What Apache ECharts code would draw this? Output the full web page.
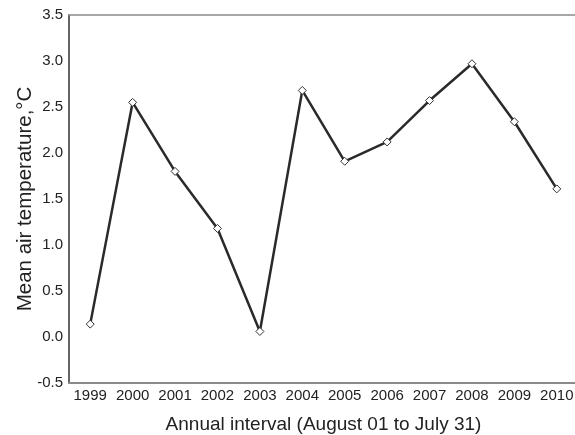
<!DOCTYPE html>
<html>
<head>
<meta charset="utf-8">
<script src="https://cdn.jsdelivr.net/npm/echarts@6/dist/echarts.min.js"></script>
<style>
  html, body { margin: 0; padding: 0; background: #fff; }
  #chart { width: 575px; height: 435px; }
</style>
</head>
<body>
<div id="chart"></div>
<script>
// Annual intervals (August 01 to July 31)
const years = ['1999', '2000', '2001', '2002', '2003', '2004', '2005', '2006', '2007', '2008', '2009', '2010'];
// Mean air temperature, °C
const meanTemp = [0.14, 2.55, 1.80, 1.18, 0.06, 2.68, 1.91, 2.12, 2.57, 2.97, 2.34, 1.61];
// Value axis range and step
const yMin = -0.5;
const yMax = 3.5;
const yStep = 0.5;

const font = 'Liberation Sans, Arial, sans-serif';
const chart = echarts.init(document.getElementById('chart'), null, { renderer: 'canvas' });

chart.setOption({
  animation: false,
  backgroundColor: '#ffffff',
  grid: { left: 69, top: 15, width: 509, height: 368, outerBoundsMode: 'none', containLabel: false },
  xAxis: [
    {
      type: 'category',
      data: years,
      boundaryGap: true,
      name: 'Annual interval (August 01 to July 31)',
      nameLocation: 'middle',
      nameGap: 32,
      nameMoveOverlap: false,
      nameTextStyle: { fontFamily: font, fontSize: 19, color: '#222' },
      axisLine: { onZero: false, lineStyle: { color: '#8a8a8a', width: 2 } },
      axisTick: { show: false },
      axisLabel: { fontFamily: font, fontSize: 15, color: '#222', margin: 5, interval: 0 },
      splitLine: { show: false }
    },
    {
      // plain frame line along the top edge
      type: 'category',
      data: years,
      position: 'top',
      axisLine: { onZero: false, lineStyle: { color: '#8a8a8a', width: 1.5 } },
      axisTick: { show: false },
      axisLabel: { show: false },
      splitLine: { show: false }
    }
  ],
  yAxis: {
    type: 'value',
    min: yMin,
    max: yMax,
    interval: yStep,
    name: 'Mean air temperature,°C',
    nameLocation: 'middle',
    nameGap: 33,
    nameMoveOverlap: false,
    nameTextStyle: { fontFamily: font, fontSize: 20.5, color: '#222' },
    axisLine: { show: true, onZero: false, lineStyle: { color: '#333', width: 1.5 } },
    axisTick: { show: false },
    axisLabel: {
      fontFamily: font, fontSize: 15, color: '#222', margin: 6,
      formatter: v => v.toFixed(1)
    },
    splitLine: { show: false }
  },
  series: [{
    type: 'line',
    data: meanTemp,
    symbol: 'diamond',
    symbolSize: 8,
    lineStyle: { color: '#2a2a2a', width: 2.5 },
    itemStyle: { color: '#ffffff', borderColor: '#333', borderWidth: 1 },
    z: 3
  }]
});
</script>
</body>
</html>
